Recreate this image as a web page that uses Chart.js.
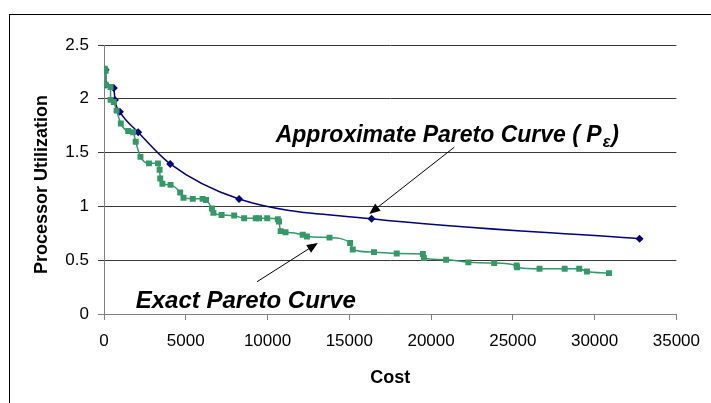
<!DOCTYPE html>
<html>
<head>
<meta charset="utf-8">
<script src="https://cdn.jsdelivr.net/npm/chart.js@4.4.0/dist/chart.umd.min.js"></script>
<style>
  html,body{margin:0;padding:0;background:#fff;overflow:hidden;}
  #wrap{position:relative;width:711px;height:403px;overflow:hidden;}
  #frame{position:absolute;left:9px;top:14px;width:900px;height:600px;border:1.5px solid #000;box-sizing:border-box;}
  canvas{position:absolute;left:0;top:0;}
</style>
</head>
<body>
<div id="wrap">
  <div id="frame"></div>
  <canvas id="c" width="711" height="403"></canvas>
</div>
<script>
// ---- data ----
const approxCost = [100, 120, 600, 670, 970, 2090, 4050, 8260, 16360, 32750];
const approxUtil = [2.27, 2.13, 2.10, 1.99, 1.88, 1.69, 1.395, 1.068, 0.885, 0.70];

const exactCost = [50, 100, 100, 400, 400, 600, 770, 1030, 1480, 1780, 1940, 2230, 2750, 3300, 3400, 3440, 3570, 4070, 4660, 4860, 5430, 6030, 6240, 6600, 6690, 7190, 7960, 8570, 9280, 9480, 9980, 10630, 10700, 10800, 11100, 12150, 12410, 13790, 15050, 15210, 16510, 17900, 19500, 19560, 20920, 22280, 23860, 25230, 25260, 26630, 28170, 29060, 29530, 30880];
const exactUtil = [2.28, 2.26, 2.13, 2.11, 1.99, 1.97, 1.89, 1.77, 1.70, 1.69, 1.60, 1.46, 1.40, 1.40, 1.34, 1.26, 1.21, 1.20, 1.13, 1.08, 1.07, 1.07, 1.06, 0.98, 0.94, 0.92, 0.915, 0.89, 0.89, 0.89, 0.89, 0.88, 0.86, 0.77, 0.76, 0.736, 0.72, 0.71, 0.66, 0.60, 0.575, 0.563, 0.557, 0.52, 0.504, 0.48, 0.473, 0.45, 0.435, 0.42, 0.42, 0.42, 0.395, 0.38];

const xTicks = [0, 5000, 10000, 15000, 20000, 25000, 30000, 35000];
const yTicks = [0, 0.5, 1, 1.5, 2, 2.5];

const xTitle = 'Cost';
const yTitle = 'Processor Utilization';
const approxLabel = 'Approximate Pareto Curve ( P';
const approxSub = 'ε';
const exactLabel = 'Exact Pareto Curve';

const toPts = (xs, ys) => xs.map((x, i) => ({x: x, y: ys[i]}));

const FONT = '"Liberation Sans", Arial, sans-serif';

function arrow(ctx, x1, y1, x2, y2) {
  const ang = Math.atan2(y2 - y1, x2 - x1);
  const L = 11, W = 4.5;
  ctx.save();
  ctx.strokeStyle = '#000';
  ctx.fillStyle = '#000';
  ctx.lineWidth = 1;
  ctx.beginPath();
  ctx.moveTo(x1, y1);
  ctx.lineTo(x2 - Math.cos(ang) * L * 0.8, y2 - Math.sin(ang) * L * 0.8);
  ctx.stroke();
  ctx.beginPath();
  ctx.moveTo(x2, y2);
  ctx.lineTo(x2 - Math.cos(ang) * L - Math.sin(ang) * W, y2 - Math.sin(ang) * L + Math.cos(ang) * W);
  ctx.lineTo(x2 - Math.cos(ang) * L + Math.sin(ang) * W, y2 - Math.sin(ang) * L - Math.cos(ang) * W);
  ctx.closePath();
  ctx.fill();
  ctx.restore();
}

const labelsPlugin = {
  id: 'labelsPlugin',
  afterDraw(chart) {
    const ctx = chart.ctx;
    const xs = chart.scales.x, ys = chart.scales.y;
    const ca = chart.chartArea;
    ctx.save();
    ctx.fillStyle = '#000';
    // axis titles
    ctx.font = 'bold 18px ' + FONT;
    ctx.textAlign = 'center';
    ctx.textBaseline = 'middle';
    ctx.fillText(xTitle, (ca.left + ca.right) / 2, 378);
    ctx.save();
    ctx.translate(42, (ca.top + ca.bottom) / 2 + 5);
    ctx.rotate(-Math.PI / 2);
    ctx.fillText(yTitle, 0, 0);
    ctx.restore();

    // annotation texts
    ctx.textAlign = 'left';
    ctx.textBaseline = 'alphabetic';
    ctx.font = 'italic bold 23px ' + FONT;
    let tx = xs.getPixelForValue(10500), ty = ys.getPixelForValue(1.60);
    ctx.fillText(approxLabel, tx, ty);
    let w = ctx.measureText(approxLabel).width;
    ctx.font = 'italic bold 16px ' + FONT;
    ctx.fillText(approxSub, tx + w + 1, ty + 5);
    let w2 = ctx.measureText(approxSub).width;
    ctx.font = 'italic bold 23px ' + FONT;
    ctx.fillText(')', tx + w + w2 + 2, ty);

    ctx.font = 'italic bold 24px ' + FONT;
    ctx.fillText(exactLabel, xs.getPixelForValue(1940), ys.getPixelForValue(0.06));
    ctx.restore();

    // arrows
    arrow(ctx, xs.getPixelForValue(21420), ys.getPixelForValue(1.55), xs.getPixelForValue(16220), ys.getPixelForValue(0.93));
    arrow(ctx, xs.getPixelForValue(9360), ys.getPixelForValue(0.30), xs.getPixelForValue(13080), ys.getPixelForValue(0.66));
  }
};

new Chart(document.getElementById('c'), {
  type: 'scatter',
  data: {
    datasets: [
      {
        label: 'Exact',
        data: toPts(exactCost, exactUtil),
        showLine: true,
        borderColor: '#339966',
        backgroundColor: '#339966',
        borderWidth: 1.5,
        pointStyle: 'rect',
        pointRadius: 4.2,
        pointBorderWidth: 0,
        cubicInterpolationMode: 'monotone'
      },
      {
        label: 'Approx',
        data: toPts(approxCost, approxUtil),
        showLine: true,
        borderColor: '#000080',
        backgroundColor: '#000080',
        borderWidth: 1.5,
        pointStyle: 'rectRot',
        pointRadius: 4,
        pointBorderWidth: 0,
        cubicInterpolationMode: 'monotone'
      }
    ]
  },
  options: {
    responsive: false,
    animation: false,
    devicePixelRatio: 1,
    layout: {padding: {left: 0, top: 45, right: 31, bottom: 0}},
    plugins: {legend: {display: false}, tooltip: {enabled: false}},
    scales: {
      x: {
        type: 'linear',
        min: 0, max: 35000,
        afterBuildTicks: s => { s.ticks = xTicks.map(v => ({value: v})); },
        afterFit: s => { s.height = 89; },
        ticks: {color: '#000', font: {family: FONT, size: 17}, padding: 11, maxRotation: 0, autoSkip: false,
                callback: v => String(v)},
        grid: {drawOnChartArea: false, drawTicks: true, tickLength: 6, color: '#808080'},
        border: {color: '#808080', width: 1}
      },
      y: {
        min: 0, max: 2.5,
        afterBuildTicks: s => { s.ticks = yTicks.map(v => ({value: v})); },
        afterFit: s => { s.width = 104; },
        ticks: {color: '#000', font: {family: FONT, size: 17}, padding: 9, callback: v => String(v)},
        grid: {drawOnChartArea: true, drawTicks: true, tickLength: 6,
               color: ctx => (ctx.tick && ctx.tick.value === 0) ? '#808080' : '#3a3a3a'},
        border: {color: '#808080', width: 1}
      }
    }
  },
  plugins: [labelsPlugin]
});
</script>
</body>
</html>
